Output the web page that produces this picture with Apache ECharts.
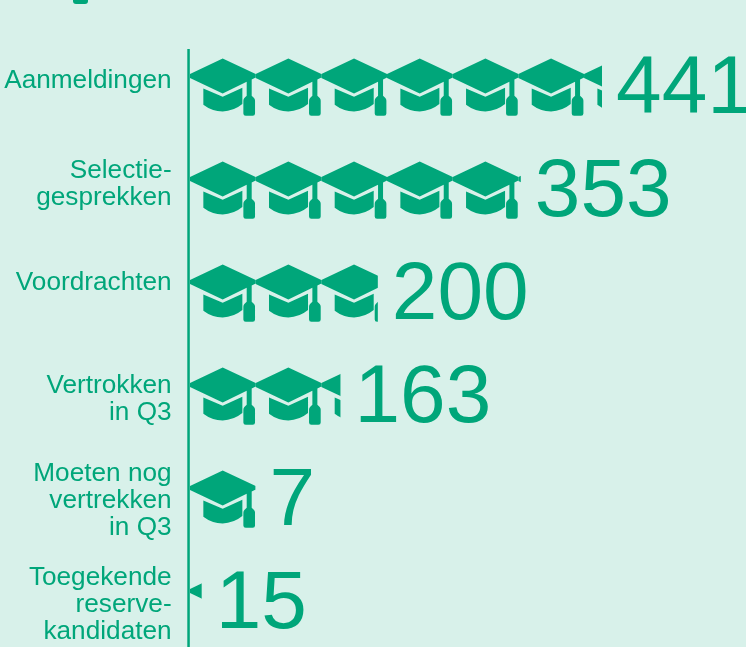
<!DOCTYPE html>
<html><head><meta charset="utf-8">
<style>html,body{margin:0;padding:0;background:#d8f1ea;overflow:hidden}#c{width:746px;height:647px}</style>
<script src="https://cdn.jsdelivr.net/npm/echarts@6/dist/echarts.min.js"></script>
</head><body><div id="c"></div>
<script>
const categories = ['Aanmeldingen','Selectie-\ngesprekken','Voordrachten','Vertrokken\nin Q3','Moeten nog\nvertrekken\nin Q3','Toegekende\nreserve-\nkandidaten'];
const barLengths = [441,354,201,161,70,12.5];
const valueLabels = ['441','353','200','163','7','15'];
const labelLift = [12,12,20,-6,-3,-5];
const GREEN = '#00a67a';
const hat = 'path://M128 53L227 100L227 110L215 116L215 165L222 172Q225 175 225 180L225 218Q225 225 218 225L197 225Q190 225 190 218L190 180Q190 175 193 172L200 165L200 123L128 158L30 112L30 100ZM70 143L128 168L187 141L187 190Q160 212 128 212Q96 212 70 192Z';
const txt = {color:GREEN,fontFamily:'Liberation Sans',fontSize:26.2,lineHeight:27};
const rich = {n:txt};
labelLift.forEach(v=>{rich['s'+Math.abs(v)]={fontSize:1,lineHeight:Math.abs(v),color:'transparent'};});
const chart = echarts.init(document.getElementById('c'), null, {renderer:'canvas'});
chart.setOption({
  animation:false,
  backgroundColor:'#d8f1ea',
  grid:{left:190,right:0,top:35.6,height:618,outerBoundsMode:'none',containLabel:false},
  xAxis:{type:'value',min:0,max:595,show:false},
  yAxis:{type:'category',inverse:true,data:categories,
    axisLine:{show:false},axisTick:{show:false},
    axisLabel:Object.assign({},txt,{align:'right',margin:18.4,interval:0,rich,
      formatter:(v,i)=>{
        const body=v.split('\n').map(l=>'{n|'+l+'}');
        const sp='{s'+Math.abs(labelLift[i])+'| }';
        return (labelLift[i]>0?body.concat(sp):[sp].concat(body)).join('\n');
      }})},
  series:[{
    type:'pictorialBar',data:barLengths,symbol:hat,symbolRepeat:'fixed',symbolClip:true,
    symbolBoundingData:492,symbolSize:[65.7,57.3],symbolMargin:0,symbolPosition:'start',
    itemStyle:{color:GREEN},label:{show:false},silent:true
  },{
    type:'bar',data:barLengths,barWidth:60,barGap:'-100%',itemStyle:{color:'transparent'},silent:true,
    label:{show:true,position:'right',distance:14,offset:[0,3],color:GREEN,fontFamily:'Liberation Sans',fontSize:82,
      formatter:p=>valueLabels[p.dataIndex]}
  }],
  graphic:[
    {type:'rect',silent:true,shape:{x:187.3,y:49,width:2.5,height:600},style:{fill:GREEN}},
    {type:'rect',silent:true,shape:{x:73,y:-8,width:15,height:12,r:3},style:{fill:GREEN}}
  ]
});
</script></body></html>
